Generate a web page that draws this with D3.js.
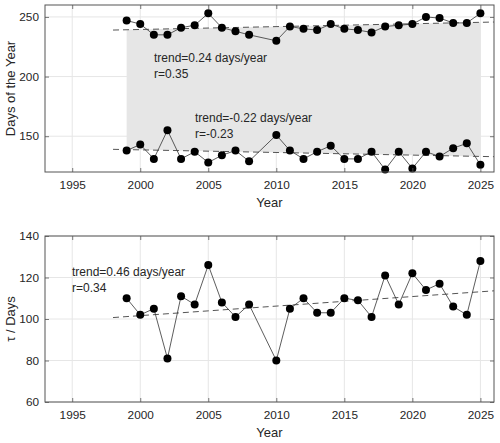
<!DOCTYPE html>
<html>
<head>
<meta charset="utf-8">
<script src="https://cdn.jsdelivr.net/npm/d3@7"></script>
<style>
  html, body { margin: 0; padding: 0; background: #fff; }
  svg { display: block; }
  text { font-family: "Liberation Sans", Arial, Helvetica, sans-serif; fill: #262626; }
</style>
</head>
<body>
<svg id="chart" width="500" height="443"></svg>
<script>
// ---- data ----
const years = [1999,2000,2001,2002,2003,2004,2005,2006,2007,2008,
               2010,2011,2012,2013,2014,2015,2016,2017,2018,2019,2020,2021,2022,2023,2024,2025];
const endDays = [247,244,235,235,241,243,253,241,238,235,
                 230,242,240,239,244,240,239,237,242,243,244,250,249,245,245,253];
const startDays = [138,143,131,155,131,137,128,134,138,129,
                   151,138,131,137,142,131,131,137,122,137,123,137,133,140,144,126];
const tauDays = [110,102,105,81,111,107,126,108,101,107,
                 80,105,110,103,103,110,109,101,121,107,122,114,117,106,102,128];
// trend lines: [slope days/year, value at 1998]
const endTrend = [0.24, 239.0];
const startTrend = [-0.22, 139.0];
const tauTrend = [0.46, 100.7];
const trendSpan = [1998, 2026];
const fillSpan = [1999, 2025];
const xTicks = [1995, 2000, 2005, 2010, 2015, 2020, 2025];
const yTicksTop = [150, 200, 250];
const yTicksBottom = [60, 80, 100, 120, 140];
const labelsTop = ["trend=0.24 days/year", "r=0.35", "trend=-0.22 days/year", "r=-0.23"];
const labelsBottom = ["trend=0.46 days/year", "r=0.34"];

const svg = d3.select("#chart");
const L = 45, R = 494;
const x = d3.scaleLinear().domain([1993, 2026]).range([L, R]);

function trendAt(t, yr) { return t[1] + t[0] * (yr - 1998); }

function panel(top, bottom, yDomain, yTicks, yTitle) {
  const y = d3.scaleLinear().domain(yDomain).range([bottom, top]);
  const g = svg.append("g");
  g.append("g").selectAll("line").data(xTicks).join("line")
    .attr("x1", d => x(d)).attr("x2", d => x(d))
    .attr("y1", top).attr("y2", bottom)
    .attr("stroke", "#e6e6e6").attr("stroke-width", 1);
  g.append("g").selectAll("line").data(yTicks).join("line")
    .attr("x1", L).attr("x2", R)
    .attr("y1", d => y(d)).attr("y2", d => y(d))
    .attr("stroke", "#e6e6e6").attr("stroke-width", 1);
  return { g, y, top, bottom, yTicks, yTitle };
}

function finishPanel(p) {
  const { g, y, top, bottom, yTicks, yTitle } = p;
  const ax = g.append("g").attr("transform", `translate(0,${bottom})`)
    .call(d3.axisBottom(x).tickValues(xTicks).tickFormat(d3.format("d")).tickSizeInner(-4).tickSizeOuter(0).tickPadding(9));
  const axTop = g.append("g").attr("transform", `translate(0,${top})`)
    .call(d3.axisTop(x).tickValues(xTicks).tickFormat("").tickSizeInner(-4).tickSizeOuter(0));
  const ay = g.append("g").attr("transform", `translate(${L},0)`)
    .call(d3.axisLeft(y).tickValues(yTicks).tickSizeInner(-4).tickSizeOuter(0).tickPadding(6));
  const ayR = g.append("g").attr("transform", `translate(${R},0)`)
    .call(d3.axisRight(y).tickValues(yTicks).tickFormat("").tickSizeInner(-4).tickSizeOuter(0));
  [ax, axTop, ay, ayR].forEach(a => {
    a.select(".domain").remove();
    a.selectAll(".tick line").attr("stroke", "#555").attr("stroke-width", 0.8);
    a.selectAll(".tick text").style("font-size", "11.8px").attr("fill", "#262626")
      .style("font-family", '"Liberation Sans", Arial, sans-serif');
  });
  g.append("rect").attr("x", L).attr("y", top).attr("width", R - L).attr("height", bottom - top)
    .attr("fill", "none").attr("stroke", "#555").attr("stroke-width", 1);
  g.append("text").attr("x", (L + R) / 2).attr("y", bottom + 35)
    .attr("text-anchor", "middle").style("font-size", "13px").text("Year");
  g.append("text").attr("transform", `translate(15,${(top + bottom) / 2}) rotate(-90)`)
    .attr("text-anchor", "middle").style("font-size", "13px").text(yTitle);
}

function series(p, vals, trend) {
  const { g, y } = p;
  const pts = years.map((yr, i) => [yr, vals[i]]);
  g.append("path").datum(trendSpan)
    .attr("d", d3.line().x(d => x(d)).y(d => y(trendAt(trend, d))))
    .attr("fill", "none").attr("stroke", "#555").attr("stroke-width", 1)
    .attr("stroke-dasharray", "6,4");
  g.append("path").datum(pts)
    .attr("d", d3.line().x(d => x(d[0])).y(d => y(d[1])))
    .attr("fill", "none").attr("stroke", "#333").attr("stroke-width", 0.8);
  g.append("g").selectAll("circle").data(pts).join("circle")
    .attr("cx", d => x(d[0])).attr("cy", d => y(d[1])).attr("r", 4)
    .attr("fill", "#000");
}

// ---- top panel ----
const pTop = panel(5, 172, [120, 260], yTicksTop, "Days of the Year");
pTop.g.append("path").datum(fillSpan)
  .attr("d", d3.area().x(d => x(d))
    .y0(d => pTop.y(trendAt(startTrend, d)))
    .y1(d => pTop.y(trendAt(endTrend, d))))
  .attr("fill", "#e6e6e6");
series(pTop, endDays, endTrend);
series(pTop, startDays, startTrend);
const tTop = [[154, 62], [154, 78], [195, 122], [195, 138]];
labelsTop.forEach((t, i) => {
  pTop.g.append("text").attr("x", tTop[i][0]).attr("y", tTop[i][1])
    .style("font-size", "12px").text(t);
});
finishPanel(pTop);

// ---- bottom panel ----
const pBot = panel(236, 402, [60, 140], yTicksBottom, "\u03C4 / Days");
series(pBot, tauDays, tauTrend);
const tBot = [[72, 276], [72, 292]];
labelsBottom.forEach((t, i) => {
  pBot.g.append("text").attr("x", tBot[i][0]).attr("y", tBot[i][1])
    .style("font-size", "12px").text(t);
});
finishPanel(pBot);
</script>
</body>
</html>
